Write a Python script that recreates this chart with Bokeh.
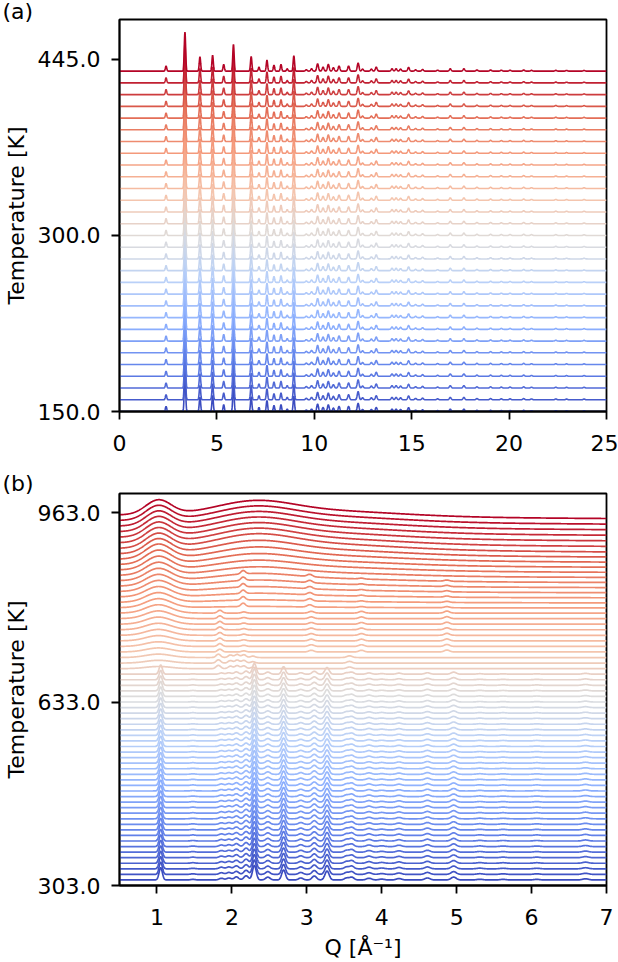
import numpy as np
from bokeh.plotting import figure
from bokeh.layouts import column
from bokeh.models import FixedTicker, Range1d, ColumnDataSource
from bokeh.embed import file_html
from bokeh.resources import INLINE

FONT = "DejaVu Sans"
FS = "22px"

# ---------------- colour map (coolwarm anchors) ----------------
cw_stops = [0.0, 0.125, 0.25, 0.375, 0.5, 0.625, 0.75, 0.875, 1.0]
cw_colors = ["#3b4cc0", "#6282ea", "#8db0fe", "#b8d0f9", "#dddcdc",
             "#f5c4ac", "#f59d7e", "#e26952", "#b40426"]


def coolwarm(t):
    rgb = np.array([[int(c[i:i + 2], 16) for i in (1, 3, 5)] for c in cw_colors], float)
    r = np.interp(t, cw_stops, rgb[:, 0])
    g = np.interp(t, cw_stops, rgb[:, 1])
    b = np.interp(t, cw_stops, rgb[:, 2])
    return "#%02x%02x%02x" % (int(round(r)), int(round(g)), int(round(b)))


def peaks(q, centers, heights, sigmas, scale=1.0):
    y = np.zeros_like(q)
    for c, h, s in zip(centers, heights, sigmas):
        y += scale * h * np.exp(-0.5 * ((q - c) / s) ** 2)
    return y


# ---------------- panel (a) data ----------------
a_n_curves = 30
a_tick_pos = [0, 15, 30]
a_tick_labels = ["150.0", "300.0", "445.0"]
a_xticks = [0, 5, 10, 15, 20, 25]
a_peak_q = [2.39, 3.36, 4.13, 4.78, 5.35, 5.85, 6.76, 7.16, 7.57, 7.93, 8.29, 8.61,
            8.95, 9.59, 9.86, 10.17, 10.45, 10.72, 10.98, 11.27, 11.76, 12.25, 12.48,
            12.93, 13.18, 13.99, 14.20, 14.43, 14.84, 15.20, 15.56, 16.33, 16.98,
            17.68, 18.35, 19.05, 19.60, 20.05, 20.75, 21.15, 22.40, 22.95, 23.85]
a_peak_h = [0.43, 3.33, 1.22, 1.36, 0.57, 2.28, 1.25, 0.34, 0.94, 0.51, 0.57, 0.20,
            1.31, 0.12, 0.20, 0.63, 0.34, 0.57, 0.29, 0.43, 0.43, 0.69, 0.17,
            0.17, 0.34, 0.20, 0.20, 0.17, 0.32, 0.11, 0.14, 0.08, 0.20,
            0.20, 0.10, 0.10, 0.08, 0.08, 0.10, 0.07, 0.07, 0.06, 0.06]
a_peak_w = [0.035] * 13 + [0.045] * 30

# ---------------- panel (b) data ----------------
b_temps = list(range(303, 964, 10))          # 67 temperatures
b_tick_pos = [0, 33, 67]
b_tick_labels = ["303.0", "633.0", "963.0"]
b_xticks = [1, 2, 3, 4, 5, 6, 7]

# crystalline phase I (303 - 673 K)
b1_last = 37
b1_q = [1.05, 1.48, 1.86, 1.96, 2.06, 2.19, 2.30, 2.48, 2.69, 2.92, 3.10, 3.27,
        3.53, 3.60, 3.83, 4.00, 4.23, 4.61, 4.96, 5.31, 5.62, 6.07, 6.72]
b1_h = [2.2, 0.10, 0.30, 0.35, 0.55, 0.75, 2.6, 0.50, 1.8, 0.35, 0.70, 1.6,
        0.35, 0.50, 0.30, 0.15, 0.25, 0.35, 0.50, 0.12, 0.10, 0.10, 0.20]
b1_w = [0.022, 0.03, 0.03, 0.03, 0.03, 0.03, 0.025, 0.03, 0.025, 0.03, 0.03, 0.028,
        0.03, 0.03, 0.035, 0.035, 0.035, 0.035, 0.035, 0.04, 0.04, 0.04, 0.04]
b1_decay = 0.25

# phase II-a (683 - 703 K)
b2_range = (38, 40)
b2_q = [1.82, 1.98, 2.07, 2.16, 2.28, 3.57]
b2_h = [0.6, 0.45, 0.55, 0.5, 0.25, 0.3]
b2_w = [0.03, 0.03, 0.03, 0.03, 0.03, 0.035]

# phase II-b (713 - 783 K)
b3_range = (41, 48)
b3_q = [1.84, 2.16, 3.06, 3.73, 4.87]
b3_h = [0.5, 0.2, 0.3, 0.3, 0.35]
b3_w = [0.03, 0.03, 0.035, 0.035, 0.035]

# phase III (793 - 843 K)
b4_range = (49, 54)
b4_q = [2.15, 3.04, 3.73, 4.87]
b4_h = [0.6, 0.4, 0.15, 0.2]
b4_w = [0.03, 0.035, 0.035, 0.035]

# amorphous / liquid contribution
bl_q = [1.02, 2.30, 3.10]
bl_h = [2.6, 2.0, 1.1]
bl_s = [0.17, 0.50, 1.05]
bl_base = 0.6
bl_slope = 0.6
b_cryst_bg = 1.0
hump1_start, hump1_full, hump1_min = 38, 58, 0.15
liq_start, liq_full = 48, 60

# ---------------- build panel (a) ----------------
qa = np.linspace(0, 25, 2501)
a_xs, a_ys, a_cols = [], [], []
for i in range(a_n_curves):
    y = i + peaks(qa, a_peak_q, a_peak_h, a_peak_w)
    a_xs.append(qa)
    a_ys.append(y)
    a_cols.append(coolwarm(i / (a_n_curves - 1)))

# ---------------- build panel (b) ----------------
qb = np.linspace(0.5, 7.0, 1301)
nb = len(b_temps)
b_xs, b_ys, b_cols = [], [], []
for i in range(nb):
    if i <= b1_last:
        w1 = 0.0
    else:
        w1 = hump1_min + (1 - hump1_min) * min(1.0, (i - hump1_start) / (hump1_full - hump1_start))
    w2 = float(np.clip((i - liq_start) / (liq_full - liq_start), 0, 1))
    liq_bg = bl_base - bl_slope * (qb - qb[0]) / (qb[-1] - qb[0])
    y = (1 - w2) * b_cryst_bg + w2 * liq_bg
    y = y + w1 * peaks(qb, bl_q[:1], bl_h[:1], bl_s[:1])
    y = y + w2 * peaks(qb, bl_q[1:], bl_h[1:], bl_s[1:])
    if i <= b1_last:
        y = y + peaks(qb, b1_q, b1_h, b1_w, 1 - b1_decay * i / b1_last)
    elif b2_range[0] <= i <= b2_range[1]:
        y = y + peaks(qb, b2_q, b2_h, b2_w)
    elif b3_range[0] <= i <= b3_range[1]:
        y = y + peaks(qb, b3_q, b3_h, b3_w)
    elif b4_range[0] <= i <= b4_range[1]:
        y = y + peaks(qb, b4_q, b4_h, b4_w)
    b_xs.append(qb)
    b_ys.append(i + y)
    b_cols.append(coolwarm(i / (nb - 1)))


def style(p, panel_label, title_standoff):
    p.grid.visible = False
    p.outline_line_color = "black"
    p.outline_line_width = 1.8
    p.outline_line_alpha = 1.0
    for ax in (p.xaxis[0], p.yaxis[0]):
        ax.axis_line_width = 1.8
        ax.axis_line_color = "black"
        ax.major_tick_line_width = 1.8
        ax.major_tick_line_color = "black"
        ax.major_tick_out = 8
        ax.major_tick_in = 0
        ax.minor_tick_out = 0
        ax.minor_tick_in = 0
        ax.major_label_text_font = FONT
        ax.major_label_text_font_size = FS
        ax.major_label_text_color = "black"
        ax.axis_label_text_font = FONT
        ax.axis_label_text_font_size = FS
        ax.axis_label_text_font_style = "normal"
        ax.axis_label_text_color = "black"
    p.yaxis[0].major_label_standoff = 11
    p.xaxis[0].major_label_standoff = 15
    p.yaxis[0].axis_label = "Temperature [K]"
    p.yaxis[0].axis_label_standoff = 6
    p.title.text = panel_label
    p.title.align = "left"
    p.title.offset = -117
    p.title.standoff = title_standoff
    p.title.text_font = FONT
    p.title.text_font_size = FS
    p.title.text_font_style = "normal"
    p.title.text_color = "black"


W = 618
pa = figure(width=W, height=470, x_range=Range1d(0, 25), y_range=Range1d(0, 33.4),
            output_backend="svg", toolbar_location=None, title="(a)",
            min_border_left=118, min_border_right=12, min_border_top=19, min_border_bottom=59)
pa.multi_line(xs="xs", ys="ys", line_color="color", line_width=1.6,
              source=ColumnDataSource(dict(xs=a_xs, ys=a_ys, color=a_cols)))
style(pa, "(a)", -8)
pa.xaxis[0].ticker = FixedTicker(ticks=a_xticks)
pa.yaxis[0].ticker = FixedTicker(ticks=a_tick_pos)
pa.yaxis[0].major_label_overrides = {k: v for k, v in zip(a_tick_pos, a_tick_labels)}

pb = figure(width=W, height=492, x_range=Range1d(0.5, 7.0), y_range=Range1d(0, 70.5),
            output_backend="svg", toolbar_location=None, title="(b)",
            min_border_left=118, min_border_right=12, min_border_top=23, min_border_bottom=77)
pb.multi_line(xs="xs", ys="ys", line_color="color", line_width=1.7,
              source=ColumnDataSource(dict(xs=b_xs, ys=b_ys, color=b_cols)))
style(pb, "(b)", -4)
pb.xaxis[0].ticker = FixedTicker(ticks=b_xticks)
pb.yaxis[0].ticker = FixedTicker(ticks=b_tick_pos)
pb.yaxis[0].major_label_overrides = {k: v for k, v in zip(b_tick_pos, b_tick_labels)}
pb.xaxis[0].axis_label = "Q [Å⁻¹]"
pb.xaxis[0].axis_label_standoff = 7

layout = column(pa, pb, spacing=0)
open("out.html", "w").write(file_html(layout, INLINE))
